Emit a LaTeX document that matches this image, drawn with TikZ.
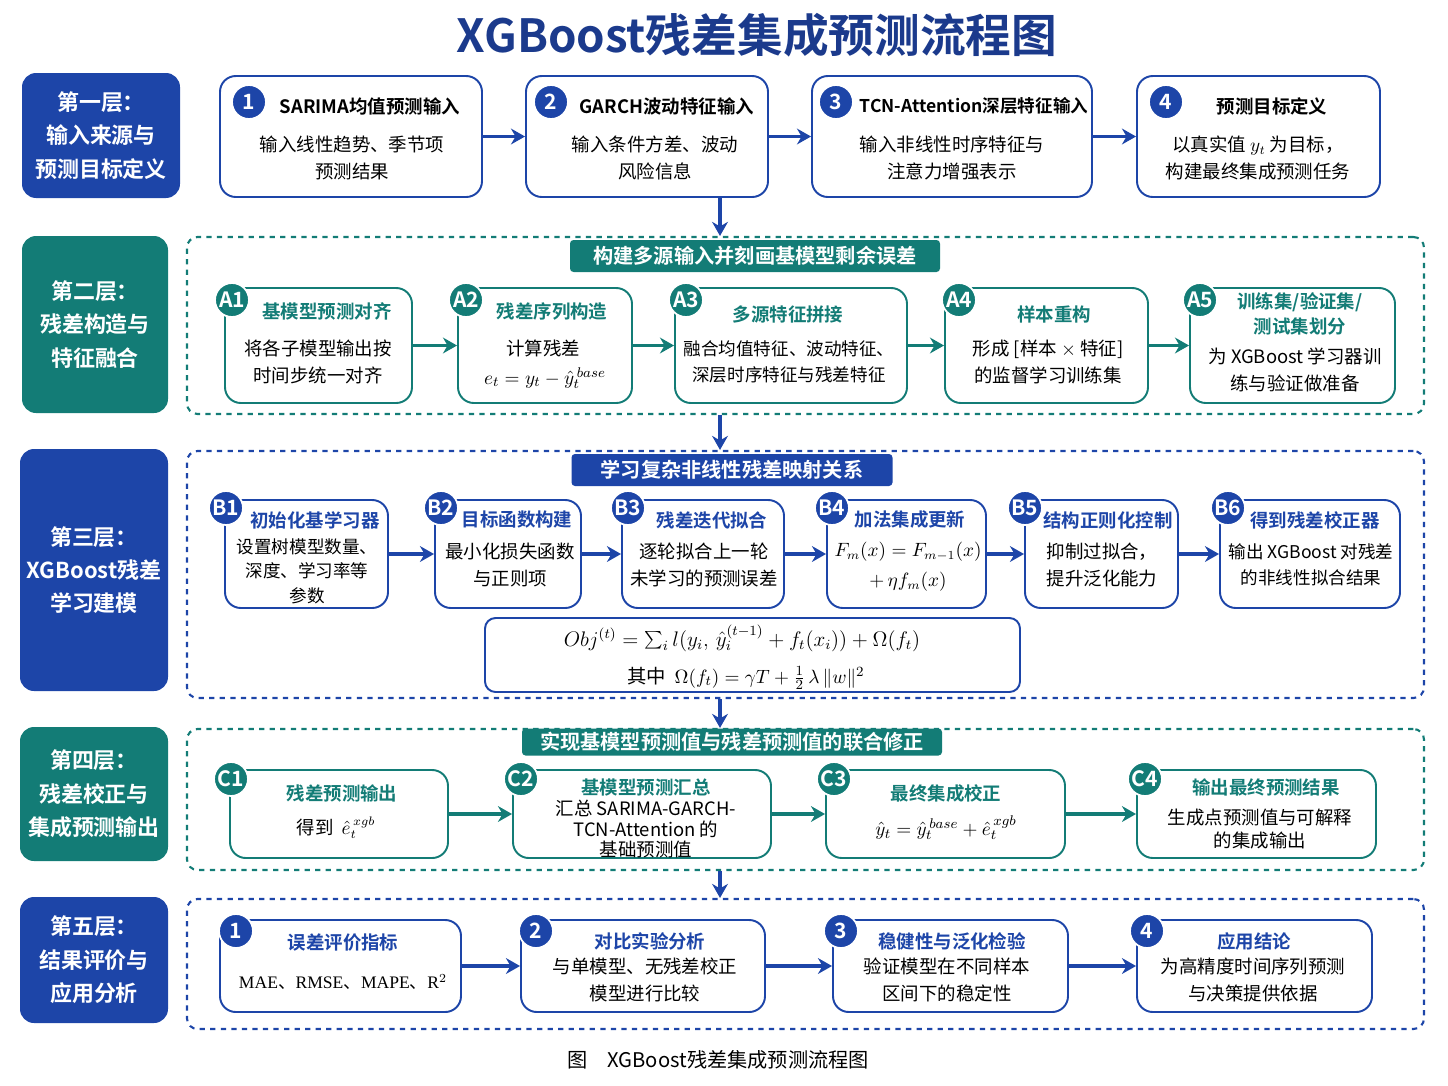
\documentclass[tikz,border=0pt]{standalone}
\usepackage{fontspec}
\setmainfont{Noto Sans CJK SC}[BoldFont={Noto Sans CJK SC Bold}]
\newfontfamily\tmsfont{Liberation Serif}
\usetikzlibrary{arrows.meta}
\definecolor{myblue}{HTML}{1D45A8}
\definecolor{navy}{HTML}{1B3A8C}
\definecolor{myteal}{HTML}{137C76}
\tikzset{
  wh/.style 2 args={minimum width=#1*0.02cm, minimum height=#2*0.02cm},
  layer/.style={rounded corners=8pt, fill=#1, text=white, align=center,
    font=\fontsize{12.5}{19}\selectfont\bfseries, inner sep=0pt},
  stepbox/.style={rounded corners=9pt, draw=#1, line width=1.1pt, fill=white},
  zone/.style={draw=#1, dashed, line width=1.2pt, rounded corners=6pt},
  header/.style={fill=#1, rounded corners=2pt, text=white, font=\fontsize{11.5}{14}\selectfont\bfseries, inner sep=0pt},
  badge/.style={circle, fill=#1, draw=white, line width=1pt, text=white, minimum size=0.68cm, inner sep=0pt, font=\fontsize{12}{12}\selectfont\bfseries},
  ttl/.style={text=#1, font=\fontsize{10.5}{14}\selectfont\bfseries, align=center, inner sep=0pt},
  txt/.style={font=\fontsize{10.5}{15}\selectfont, align=center, inner sep=0pt},
  arr/.style={draw=#1, line width=1.8pt, -{Stealth[length=8pt,width=9pt]}}
}
\begin{document}
\begin{tikzpicture}[x=0.02cm,y=-0.02cm]
\useasboundingbox (0,0) rectangle (1448,1086);
\node[text=navy, font=\fontsize{26}{30}\selectfont\bfseries] (title) at (757,35) {XGBoost残差集成预测流程图};

% layer labels
\node[layer=myblue, wh={158}{125}] (L1) at (101,135.5) {第一层：\\输入来源与\\预测目标定义};
\node[layer=myteal, wh={146}{177}] (L2) at (95,324.5) {第二层：\\残差构造与\\特征融合};
\node[layer=myblue, wh={148}{242}] (L3) at (94,570) {第三层：\\XGBoost残差\\学习建模};
\node[layer=myteal, wh={148}{134}] (L4) at (94,794) {第四层：\\残差校正与\\集成预测输出};
\node[layer=myblue, wh={148}{126}] (L5) at (94,960) {第五层：\\结果评价与\\应用分析};

% layer 1
\node[stepbox=myblue, wh={262}{121}] (P1) at (351,136.5) {};
\node[stepbox=myblue, wh={242}{121}] (P2) at (647,136.5) {};
\node[stepbox=myblue, wh={280}{121}] (P3) at (952,136.5) {};
\node[stepbox=myblue, wh={243}{121}] (P4) at (1258.5,136.5) {};
\node[badge=myblue] (P1n) at (249,102) {1};
\node[badge=myblue] (P2n) at (551,102) {2};
\node[badge=myblue] (P3n) at (836,102) {3};
\node[badge=myblue] (P4n) at (1166,102) {4};
\node[ttl=black] (P1t) at (370,106) {SARIMA均值预测输入};
\node[ttl=black] (P2t) at (667,106) {GARCH波动特征输入};
\node[ttl=black, font=\fontsize{10}{14}\selectfont\bfseries] (P3t) at (974,106) {TCN-Attention深层特征输入};
\node[ttl=black] (P4t) at (1272,106) {预测目标定义};
\node[txt] (P1b) at (352,158) {输入线性趋势、季节项\\预测结果};
\node[txt] (P2b) at (655,158) {输入条件方差、波动\\风险信息};
\node[txt] (P3b) at (952,158) {输入非线性时序特征与\\注意力增强表示};
\node[txt] (P4b) at (1258,158) {以真实值 $y_t$ 为目标，\\构建最终集成预测任务};
\draw[arr=myblue] (P1) -- (P2);
\draw[arr=myblue] (P2) -- (P3);
\draw[arr=myblue] (P3) -- (P4);

% layer 2
\node[zone=myteal, wh={1237}{177}] (Z2) at (805.5,325.5) {};
\node[header=myteal, wh={370}{32}] (H2) at (755,256) {构建多源输入并刻画基模型剩余误差};
\draw[arr=myblue] (P2.south -| H2.north) ++(-35,0) coordinate (c1) (c1) -- (c1 |- Z2.north);
\node[stepbox=myteal, wh={187}{115}] (A1) at (318.5,345.5) {};
\node[stepbox=myteal, wh={174}{115}] (A2) at (545,345.5) {};
\node[stepbox=myteal, wh={232}{115}] (A3) at (791,345.5) {};
\node[stepbox=myteal, wh={203}{115}] (A4) at (1046.5,345.5) {};
\node[stepbox=myteal, wh={205}{115}] (A5) at (1292.5,345.5) {};
\node[badge=myteal] (A1n) at (232,300) {A1};
\node[badge=myteal] (A2n) at (466,300) {A2};
\node[badge=myteal] (A3n) at (686,300) {A3};
\node[badge=myteal] (A4n) at (959,300) {A4};
\node[badge=myteal] (A5n) at (1200,300) {A5};
\node[ttl=myteal] (A1t) at (327,311) {基模型预测对齐};
\node[ttl=myteal] (A2t) at (552,311) {残差序列构造};
\node[ttl=myteal] (A3t) at (788,314) {多源特征拼接};
\node[ttl=myteal] (A4t) at (1054,314) {样本重构};
\node[ttl=myteal] (A5t) at (1300,314) {训练集/验证集/\\测试集划分};
\node[txt] (A1b) at (318,362) {将各子模型输出按\\时间步统一对齐};
\node[txt] (A2b) at (543,348) {计算残差};
\node[txt, font=\fontsize{11}{15}\selectfont] (A2f) at (545,378) {$e_t = y_t - \hat{y}_t^{\,base}$};
\node[txt, font=\fontsize{10}{15}\selectfont] (A3b) at (789,362) {融合均值特征、波动特征、\\深层时序特征与残差特征};
\node[txt] (A4b) at (1048,362) {形成 [样本 $\times$ 特征]\\的监督学习训练集};
\node[txt] (A5b) at (1295,370) {为 XGBoost 学习器训\\练与验证做准备};
\draw[arr=myteal] (A1) -- (A2);
\draw[arr=myteal] (A2) -- (A3);
\draw[arr=myteal] (A3) -- (A4);
\draw[arr=myteal] (A4) -- (A5);

% layer 3
\node[zone=myblue, wh={1237}{247}] (Z3) at (805.5,574.5) {};
\node[header=myblue, wh={321}{32}] (H3) at (732,470) {学习复杂非线性残差映射关系};
\draw[arr=myblue] (c1 |- Z2.south) -- (c1 |- Z3.north);
\node[stepbox=myblue, wh={163}{108}] (B1) at (306.5,554) {};
\node[stepbox=myblue, wh={146}{108}] (B2) at (508,554) {};
\node[stepbox=myblue, wh={162}{108}] (B3) at (703,554) {};
\node[stepbox=myblue, wh={159}{108}] (B4) at (906.5,554) {};
\node[stepbox=myblue, wh={153}{108}] (B5) at (1101.5,554) {};
\node[stepbox=myblue, wh={180}{108}] (B6) at (1310,554) {};
\node[badge=myblue] (B1n) at (226,508) {B1};
\node[badge=myblue] (B2n) at (441,508) {B2};
\node[badge=myblue] (B3n) at (628,508) {B3};
\node[badge=myblue] (B4n) at (832,508) {B4};
\node[badge=myblue] (B5n) at (1025,508) {B5};
\node[badge=myblue] (B6n) at (1228,508) {B6};
\node[ttl=myblue] (B1t) at (315,520) {初始化基学习器};
\node[ttl=myblue] (B2t) at (517,520) {目标函数构建};
\node[ttl=myblue] (B3t) at (712,520) {残差迭代拟合};
\node[ttl=myblue] (B4t) at (910,520) {加法集成更新};
\node[ttl=myblue] (B5t) at (1108,520) {结构正则化控制};
\node[ttl=myblue] (B6t) at (1315,520) {得到残差校正器};
\node[txt, font=\fontsize{10}{14}\selectfont] (B1b) at (307,571) {设置树模型数量、\\深度、学习率等\\参数};
\node[txt] (B2b) at (510,565) {最小化损失函数\\与正则项};
\node[txt] (B3b) at (704,565) {逐轮拟合上一轮\\未学习的预测误差};
\node[txt, font=\fontsize{10.5}{17}\selectfont] (B4b) at (908,567) {$F_m(x) = F_{m-1}(x)$\\$+\,\eta f_m(x)$};
\node[txt] (B5b) at (1102,565) {抑制过拟合，\\提升泛化能力};
\node[txt, font=\fontsize{10}{15}\selectfont] (B6b) at (1311,565) {输出 XGBoost 对残差\\的非线性拟合结果};
\draw[arr=myblue] (B1) -- (B2);
\draw[arr=myblue] (B2) -- (B3);
\draw[arr=myblue] (B3) -- (B4);
\draw[arr=myblue] (B4) -- (B5);
\draw[arr=myblue] (B5) -- (B6);
\node[stepbox=myblue, rounded corners=6pt, wh={535}{74}] (F) at (752.5,655) {};
\node[txt, font=\fontsize{11.5}{15}\selectfont] (F1) at (742,638) {$Obj^{(t)} = \sum_i l(y_i,\,\hat{y}_i^{(t-1)}+f_t(x_i))+\Omega(f_t)$};
\node[txt, font=\fontsize{11}{15}\selectfont] (F2) at (746,678) {其中\ \ $\Omega(f_t)=\gamma T+\frac{1}{2}\,\lambda\,\|w\|^2$};

% layer 4
\node[zone=myteal, wh={1237}{141}] (Z4) at (805.5,799.5) {};
\node[header=myteal, wh={420}{27}] (H4) at (732,742) {实现基模型预测值与残差预测值的联合修正};
\draw[arr=myblue] (c1 |- Z3.south) -- (c1 |- Z4.north);
\node[stepbox=myteal, wh={218}{88}] (C1) at (339,814) {};
\node[stepbox=myteal, wh={258}{88}] (C2) at (642,814) {};
\node[stepbox=myteal, wh={239}{88}] (C3) at (945.5,814) {};
\node[stepbox=myteal, wh={239}{88}] (C4) at (1256.5,814) {};
\node[badge=myteal] (C1n) at (231,779) {C1};
\node[badge=myteal] (C2n) at (521,779) {C2};
\node[badge=myteal] (C3n) at (834,779) {C3};
\node[badge=myteal] (C4n) at (1145,779) {C4};
\node[ttl=myteal] (C1t) at (342,793) {残差预测输出};
\node[ttl=myteal] (C2t) at (646,787) {基模型预测汇总};
\node[ttl=myteal] (C3t) at (946,793) {最终集成校正};
\node[ttl=myteal] (C4t) at (1266,787) {输出最终预测结果};
\node[txt] (C1b) at (336,828) {得到\ \ $\hat{e}_t^{\,xgb}$};
\node[txt, font=\fontsize{10.5}{11.5}\selectfont] (C2b) at (646,829) {汇总 SARIMA-GARCH-\\TCN-Attention 的\\基础预测值};
\node[txt, font=\fontsize{11}{15}\selectfont] (C3b) at (946,828) {$\hat{y}_t = \hat{y}_t^{\,base} + \hat{e}_t^{\,xgb}$};
\node[txt, font=\fontsize{10.5}{13}\selectfont] (C4b) at (1260,829) {生成点预测值与可解释\\的集成输出};
\draw[arr=myteal] (C1) -- (C2);
\draw[arr=myteal] (C2) -- (C3);
\draw[arr=myteal] (C3) -- (C4);

% layer 5
\node[zone=myblue, wh={1237}{130}] (Z5) at (805.5,964) {};
\draw[arr=myblue] (c1 |- Z4.south) -- (c1 |- Z5.north);
\node[stepbox=myblue, wh={241}{92}] (D1) at (340.5,966) {};
\node[stepbox=myblue, wh={244}{92}] (D2) at (643,966) {};
\node[stepbox=myblue, wh={235}{92}] (D3) at (950.5,966) {};
\node[stepbox=myblue, wh={235}{92}] (D4) at (1254.5,966) {};
\node[badge=myblue] (D1n) at (236,931) {1};
\node[badge=myblue] (D2n) at (536,931) {2};
\node[badge=myblue] (D3n) at (841,931) {3};
\node[badge=myblue] (D4n) at (1147,931) {4};
\node[ttl=myblue] (D1t) at (343,943) {误差评价指标};
\node[ttl=myblue] (D2t) at (650,941) {对比实验分析};
\node[ttl=myblue] (D3t) at (952,941) {稳健性与泛化检验};
\node[ttl=myblue] (D4t) at (1254,941) {应用结论};
\node[txt, font=\fontsize{10}{15}\selectfont] (D1b) at (343,982) {{\tmsfont MAE}、{\tmsfont RMSE}、{\tmsfont MAPE}、{\tmsfont R}$^2$};
\node[txt] (D2b) at (645,980) {与单模型、无残差校正\\模型进行比较};
\node[txt] (D3b) at (947,980) {验证模型在不同样本\\区间下的稳定性};
\node[txt] (D4b) at (1253,980) {为高精度时间序列预测\\与决策提供依据};
\draw[arr=myblue] (D1) -- (D2);
\draw[arr=myblue] (D2) -- (D3);
\draw[arr=myblue] (D3) -- (D4);

\node[txt, font=\fontsize{11.5}{14}\selectfont] (cap) at (718,1060) {图\quad XGBoost残差集成预测流程图};
\end{tikzpicture}
\end{document}
